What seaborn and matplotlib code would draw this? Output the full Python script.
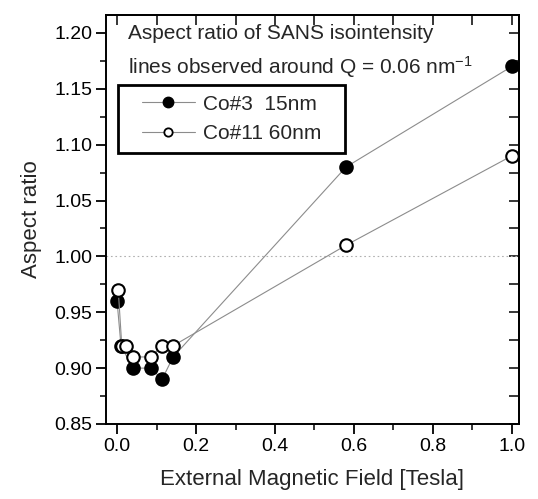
import matplotlib
matplotlib.use("Agg")
import matplotlib.pyplot as plt
from matplotlib.lines import Line2D
from matplotlib.patches import Rectangle
from matplotlib.ticker import MultipleLocator
import seaborn as sns
import pandas as pd

# Aspect ratio vs applied field for the two samples
field_co3 = [0.0, 0.010, 0.040, 0.086, 0.114, 0.142, 0.58, 1.0]
ratio_co3 = [0.96, 0.92, 0.90, 0.90, 0.89, 0.91, 1.08, 1.17]

field_co11 = [0.003, 0.012, 0.023, 0.040, 0.086, 0.114, 0.142, 0.58, 1.0]
ratio_co11 = [0.97, 0.92, 0.92, 0.91, 0.91, 0.92, 0.92, 1.01, 1.09]

label_co3 = "Co#3  15nm"
label_co11 = "Co#11 60nm"
x_ticks = [0.0, 0.2, 0.4, 0.6, 0.8, 1.0]
y_ticks = [0.85, 0.90, 0.95, 1.00, 1.05, 1.10, 1.15, 1.20]

sns.set_theme(style="ticks")
plt.rcParams["font.family"] = ["Liberation Sans", "DejaVu Sans"]
plt.rcParams["mathtext.default"] = "regular"

df3 = pd.DataFrame({"field": field_co3, "ratio": ratio_co3})
df11 = pd.DataFrame({"field": field_co11, "ratio": ratio_co11})

fig = plt.figure(figsize=(5.38, 4.99), dpi=100)
ax = fig.add_axes([106 / 538, 1 - 424 / 499, 413 / 538, 409 / 499])

ax.axhline(1.0, color="#b0b0b0", lw=0.8, ls=(0, (1.5, 2.5)), zorder=1)

line_kw = dict(color="#8c8c8c", linewidth=0.8, sort=False, estimator=None,
               marker="o", markersize=9, markeredgecolor="black",
               markeredgewidth=1.5)
sns.lineplot(data=df3, x="field", y="ratio", ax=ax, markerfacecolor="black",
             zorder=3, **line_kw)
sns.lineplot(data=df11, x="field", y="ratio", ax=ax, markerfacecolor="white",
             zorder=4, **line_kw)

ax.set_xlim(-0.028, 1.018)
ax.set_ylim(0.85, 1.216)
ax.set_xticks(x_ticks)
ax.set_yticks(y_ticks)
ax.set_xticklabels([f"{v:.1f}" for v in x_ticks])
ax.set_yticklabels([f"{v:.2f}" for v in y_ticks])
ax.xaxis.set_minor_locator(MultipleLocator(0.1))
ax.yaxis.set_minor_locator(MultipleLocator(0.025))
ax.tick_params(which="major", direction="out", length=7, width=1.3,
               labelsize=14, pad=3, colors="black")
ax.tick_params(which="minor", direction="out", length=4, width=1.3)
for s in ax.spines.values():
    s.set_visible(True)
    s.set_linewidth(1.4)
    s.set_color("black")

# inward ticks on the top and right frame
top = ax.secondary_xaxis("top")
top.set_xticks([0.0, 0.1, 0.2, 0.3, 0.4, 0.5, 0.6, 0.7, 0.8, 0.9, 1.0])
top.tick_params(direction="in", length=7, width=1.3, labeltop=False)
top.spines["top"].set_linewidth(1.4)
right = ax.secondary_yaxis("right")
right.set_yticks([0.85 + 0.025 * i for i in range(15)])
right.tick_params(direction="in", length=7, width=1.3, labelright=False)
right.spines["right"].set_linewidth(1.4)

ax.set_xlabel("External Magnetic Field [Tesla]", fontsize=16, labelpad=10)
ax.set_ylabel("Aspect ratio", fontsize=16, labelpad=9)

ax.text(0.053, 0.941, "Aspect ratio of SANS isointensity",
        transform=ax.transAxes, fontsize=15, va="baseline")
ax.text(0.053, 0.856, r"lines observed around Q = 0.06 nm$^{-1}$",
        transform=ax.transAxes, fontsize=15, va="baseline")

# legend: entries without their own frame, boxed by a wide rectangle
handles = [
    Line2D([], [], color="#8c8c8c", lw=0.8, marker="o", markersize=7.5,
           markerfacecolor="black", markeredgecolor="black"),
    Line2D([], [], color="#8c8c8c", lw=0.8, marker="o", markersize=6,
           markerfacecolor="white", markeredgecolor="black",
           markeredgewidth=1.3),
]
leg = ax.legend(handles, [label_co3, label_co11], loc="upper left",
                bbox_to_anchor=(0.087, 0.805), borderaxespad=0,
                fontsize=15, frameon=False, handlelength=2.55,
                handletextpad=0.38, labelspacing=0.5, borderpad=0)
leg.set_zorder(6)
ax.add_patch(Rectangle((0.029, 0.663), 0.55, 0.166, transform=ax.transAxes,
                       fill=True, facecolor="white", edgecolor="black",
                       linewidth=2, zorder=5))

fig.savefig("out.png", dpi=100)
